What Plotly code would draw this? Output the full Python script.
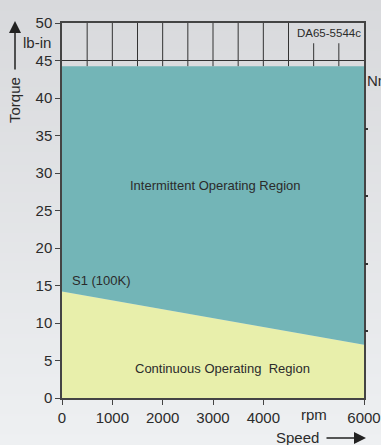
import base64, struct, zlib
import plotly.graph_objects as go

# ---- data ----
speed = [0, 6000]                 # rpm
continuous_torque = [14.2, 7.1]   # lb-in (S1 boundary)
peak_torque = [44.25, 44.25]      # lb-in (intermittent limit)
y_ticks = [0, 5, 10, 15, 20, 25, 30, 35, 40, 45, 50]
x_ticks = [0, 1000, 2000, 3000, 4000, 6000]
x_tick_labels = ["0", "1000", "2000", "3000", "4000", "6000"]
nm_ticks = [1, 2, 3, 4]
grid_x = [500, 1000, 1500, 2000, 2500, 3000, 3500, 4000, 4500, 5000, 5500]
grid_x_short = [5000, 5500]

W, H = 381, 445
L, R, T, B = 62, 17, 23, 47
pw, ph = W - L - R, H - T - B


def gradient_png(h, top, bot):
    rows = b""
    for i in range(h):
        f = i / (h - 1)
        c = bytes(int(round(top[k] + (bot[k] - top[k]) * f)) for k in range(3))
        rows += b"\x00" + c
    def chunk(tag, data):
        return struct.pack(">I", len(data)) + tag + data + struct.pack(">I", zlib.crc32(tag + data) & 0xffffffff)
    png = b"\x89PNG\r\n\x1a\n" + chunk(b"IHDR", struct.pack(">IIBBBBB", 1, h, 8, 2, 0, 0, 0)) \
        + chunk(b"IDAT", zlib.compress(rows)) + chunk(b"IEND", b"")
    return "data:image/png;base64," + base64.b64encode(png).decode()


bg = gradient_png(H, (216, 217, 220), (238, 240, 242))

fig = go.Figure()
fig.add_trace(go.Scatter(x=speed, y=continuous_torque, mode="lines", line=dict(width=0),
                         fill="tozeroy", fillcolor="#e8efab", hoverinfo="skip", showlegend=False))
fig.add_trace(go.Scatter(x=speed, y=peak_torque, mode="lines", line=dict(width=0),
                         fill="tonexty", fillcolor="#73b5b7", hoverinfo="skip", showlegend=False))
# invisible trace to activate y2
fig.add_trace(go.Scatter(x=[0], y=[0], yaxis="y2", mode="markers", marker=dict(opacity=0),
                         hoverinfo="skip", showlegend=False))

shapes = []
for gx in grid_x:
    y1 = 47.3 if gx in grid_x_short else 50
    shapes.append(dict(type="line", xref="x", yref="y", x0=gx, x1=gx, y0=peak_torque[0], y1=y1,
                       line=dict(color="#333", width=1), layer="above"))
shapes.append(dict(type="line", xref="x", yref="y", x0=speed[0], x1=speed[-1], y0=45, y1=45,
                   line=dict(color="#333", width=1), layer="above"))

font = "Liberation Sans, Arial, sans-serif"
tc = "#2b2b2b"
ann = [
    dict(x=3040, y=28.3, text="Intermittent Operating Region", showarrow=False,
         font=dict(size=13, color=tc)),
    dict(x=3180, y=3.9, text="Continuous Operating&nbsp; Region", showarrow=False,
         font=dict(size=13, color=tc)),
    dict(x=160, y=15.7, text="S1 (100K)", showarrow=False, xanchor="left",
         font=dict(size=13, color=tc)),
    dict(x=5310, y=48.7, text="DA65-5544c", showarrow=False,
         font=dict(size=11.5, color=tc)),
    dict(xref="paper", x=(365 - L) / pw, y=42.3, text="Nm", showarrow=False, xanchor="left",
         font=dict(size=15, color=tc)),
    dict(xref="paper", x=(37 - L) / pw, y=47.4, text="lb-in", showarrow=False,
         xanchor="center", yanchor="middle", font=dict(size=15, color=tc)),
    dict(xref="paper", yref="paper", x=(14 - L) / pw, y=(H - B - 100) / ph, text="Torque",
         textangle=-90, showarrow=False, xanchor="center", yanchor="middle",
         font=dict(size=15, color=tc)),
    dict(xref="paper", yref="paper", x=(15 - L) / pw, y=(H - B - 21) / ph, text="",
         showarrow=True, ax=0, ay=50, arrowhead=2, arrowsize=1.6, arrowwidth=1.5,
         arrowcolor="#222"),
    dict(xref="paper", yref="paper", x=(297 - L) / pw, y=(H - B - 437) / ph, text="Speed",
         showarrow=False, xanchor="center", yanchor="middle", font=dict(size=15, color=tc)),
    dict(xref="paper", yref="paper", x=(366 - L) / pw, y=(H - B - 438) / ph, text="",
         showarrow=True, ax=-41, ay=0, arrowhead=2, arrowsize=1.6, arrowwidth=1.5,
         arrowcolor="#222"),
    dict(x=5000, yref="paper", y=(H - B - 415) / ph, text="rpm", showarrow=False,
         xanchor="center", yanchor="middle", font=dict(size=15, color=tc)),
]

fig.update_layout(
    width=W, height=H,
    margin=dict(l=L, r=R, t=T, b=B, pad=0, autoexpand=False),
    paper_bgcolor="#e4e6e9",
    plot_bgcolor="rgba(0,0,0,0)",
    font=dict(family=font, size=15, color=tc),
    showlegend=False,
    xaxis=dict(range=[0, 6000], tickvals=x_ticks, ticktext=x_tick_labels, automargin=False,
               showgrid=False, zeroline=False, showline=True, linecolor="#444", linewidth=1.5,
               mirror=True, ticks="outside", ticklen=5, tickcolor="#444", tickwidth=1,
               tickfont=dict(size=15, color=tc)),
    yaxis=dict(range=[0, 50], tickvals=y_ticks, showgrid=False, zeroline=False, automargin=False,
               showline=True, linecolor="#444", linewidth=1.5, mirror=True,
               ticks="outside", ticklen=5, tickcolor="#444", tickwidth=1,
               tickfont=dict(size=15, color=tc)),
    yaxis2=dict(range=[0, 5.58], overlaying="y", side="right", tickvals=nm_ticks,
                automargin=False,
                showticklabels=False, showgrid=False, zeroline=False, showline=False,
                ticks="outside", ticklen=3, tickcolor="#333", tickwidth=1.5),
    shapes=shapes,
    annotations=ann,
    images=[dict(source=bg, xref="paper", yref="paper", x=-L / pw, y=1 + T / ph,
                 sizex=W / pw, sizey=H / ph, sizing="stretch", xanchor="left", yanchor="top",
                 layer="below")],
)

fig.write_html("out.html", config={"displayModeBar": False},
               post_script="document.body.style.margin='0';document.body.style.overflow='hidden';")
